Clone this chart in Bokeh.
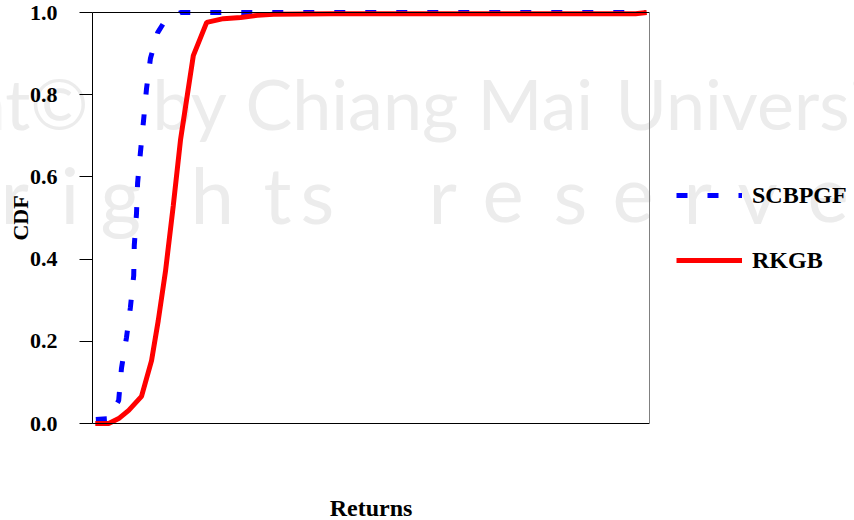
from bokeh.plotting import figure
from bokeh.models import (Range1d, FixedTicker, LinearAxis, Legend, LegendItem,
                          Label, PrintfTickFormatter)
from bokeh.embed import file_html
from bokeh.resources import INLINE

# ---- data (returns on an arbitrary 0..1 scale; the x axis shows no tick labels) ----
returns_scbpgf = [0.006, 0.029, 0.047, 0.052, 0.061, 0.068, 0.074, 0.075, 0.079,
                  0.081, 0.086, 0.092, 0.097, 0.104, 0.117, 0.127, 0.158, 0.993]
cdf_scbpgf = [0.010, 0.012, 0.056, 0.134, 0.209, 0.282, 0.360, 0.433, 0.511,
              0.586, 0.659, 0.742, 0.815, 0.888, 0.951, 0.973, 1.000, 1.000]

returns_rkgb = [0.005, 0.029, 0.047, 0.065, 0.088, 0.106, 0.118, 0.131, 0.145,
                0.158, 0.181, 0.205, 0.235, 0.266, 0.296, 0.325, 0.427, 0.975, 0.995]
cdf_rkgb = [0.000, 0.000, 0.012, 0.032, 0.066, 0.153, 0.250, 0.370, 0.530,
            0.690, 0.895, 0.976, 0.985, 0.988, 0.993, 0.996, 0.997, 0.997, 1.000]

y_ticks = [0.0, 0.2, 0.4, 0.6, 0.8, 1.0]
series_names = ["SCBPGF", "RKGB"]
x_title = "Returns"
y_title = "CDF"

# faint scanned watermark
wm_words = ["Copyright\u00a9", "by", "Chiang", "Mai", "University"]
wm_word_x = [88, 152, 245, 477, 615]
wm_letters = ["r", "i", "g", "h", "t", "s", "r", "e", "s", "e", "r", "v", "e"]
wm_letter_x = [0, 60, 100, 190, 263, 300, 428, 482, 553, 612, 683, 737, 807]

SERIF = "Liberation Serif"
W, H = 854, 520
# plotting area in canvas pixels
PL, PR, PT, PB = 92, 649, 12, 423
sx = PR - PL
sy = PB - PT

p = figure(width=W, height=H, output_backend="svg", toolbar_location=None,
           x_range=Range1d(-PL / sx, (W - PL) / sx),
           y_range=Range1d(-(H - PB) / sy, 1 + PT / sy),
           min_border=0, min_border_left=0, min_border_right=0,
           min_border_top=0, min_border_bottom=0)
p.outline_line_color = None
p.xgrid.visible = False
p.ygrid.visible = False
p.background_fill_color = "white"
p.border_fill_color = "white"

for w, x in zip(wm_words, wm_word_x):
    p.add_layout(Label(x=x, y=H - 102, x_units="screen", y_units="screen", text=w,
                       text_font="Lato", text_font_size="70px",
                       text_color="#ececec",
                       text_align="right" if w.startswith("Copy") else "left",
                       text_baseline="alphabetic", level="underlay"))
for w, x in zip(wm_letters, wm_letter_x):
    p.add_layout(Label(x=x, y=H - 193, x_units="screen", y_units="screen", text=w,
                       text_font="Lato", text_font_size="78px",
                       text_color="#ececec", text_baseline="alphabetic",
                       level="underlay"))

# y axis
ya = p.yaxis[0]
ya.fixed_location = 0
ya.bounds = (0, 1)
ya.ticker = FixedTicker(ticks=y_ticks)
ya.formatter = PrintfTickFormatter(format="%.1f")
ya.major_tick_out = 13
ya.major_tick_in = 0
ya.minor_tick_line_color = None
ya.axis_line_color = "black"
ya.major_tick_line_color = "black"
ya.major_label_standoff = 22
ya.major_label_text_font = SERIF
ya.major_label_text_font_style = "bold"
ya.major_label_text_font_size = "22px"
ya.major_label_text_color = "black"
ya.axis_label = y_title
ya.axis_label_text_font = SERIF
ya.axis_label_text_font_style = "bold"
ya.axis_label_text_font_size = "22px"
ya.axis_label_text_color = "black"
ya.axis_label_standoff = -6

# x axis: line and title only
xa = p.xaxis[0]
xa.fixed_location = 0
xa.bounds = (0, 1)
xa.ticker = FixedTicker(ticks=[])
xa.major_tick_out = 0
xa.major_tick_in = 0
xa.minor_tick_line_color = None
xa.major_label_text_font_size = "0px"
xa.axis_line_color = "black"
xa.axis_label = x_title
xa.axis_label_text_font = SERIF
xa.axis_label_text_font_style = "bold"
xa.axis_label_text_font_size = "24px"
xa.axis_label_text_color = "black"
xa.axis_label_standoff = 71

# frame top (black) and right (grey)
top = LinearAxis(ticker=FixedTicker(ticks=[]), fixed_location=1, bounds=(0, 1),
                 major_tick_out=0, major_tick_in=0, minor_tick_out=0, minor_tick_in=0,
                 major_label_text_font_size="0px", axis_line_color="black")
right = LinearAxis(ticker=FixedTicker(ticks=[]), fixed_location=1, bounds=(0, 1),
                   major_tick_out=0, major_tick_in=0, minor_tick_out=0, minor_tick_in=0,
                   major_label_text_font_size="0px", axis_line_color="#808080")
p.add_layout(top, "above")
p.add_layout(right, "right")

b = p.line(returns_scbpgf, cdf_scbpgf, line_color="#0000ff", line_width=5,
           line_dash="11 20")
r = p.line(returns_rkgb, cdf_rkgb, line_color="#ff0000", line_width=5)

legend = Legend(items=[LegendItem(label=series_names[0], renderers=[b]),
                       LegendItem(label=series_names[1], renderers=[r])],
                location=(676, H - 180 - 95), glyph_width=66, glyph_height=16,
                label_height=30, spacing=35, padding=0, margin=0,
                border_line_color=None, background_fill_alpha=0,
                label_standoff=10, label_text_font=SERIF,
                label_text_font_style="bold", label_text_font_size="24px",
                label_text_color="black", label_text_baseline="middle")
p.add_layout(legend)

open("out.html", "w").write(file_html(p, INLINE))
